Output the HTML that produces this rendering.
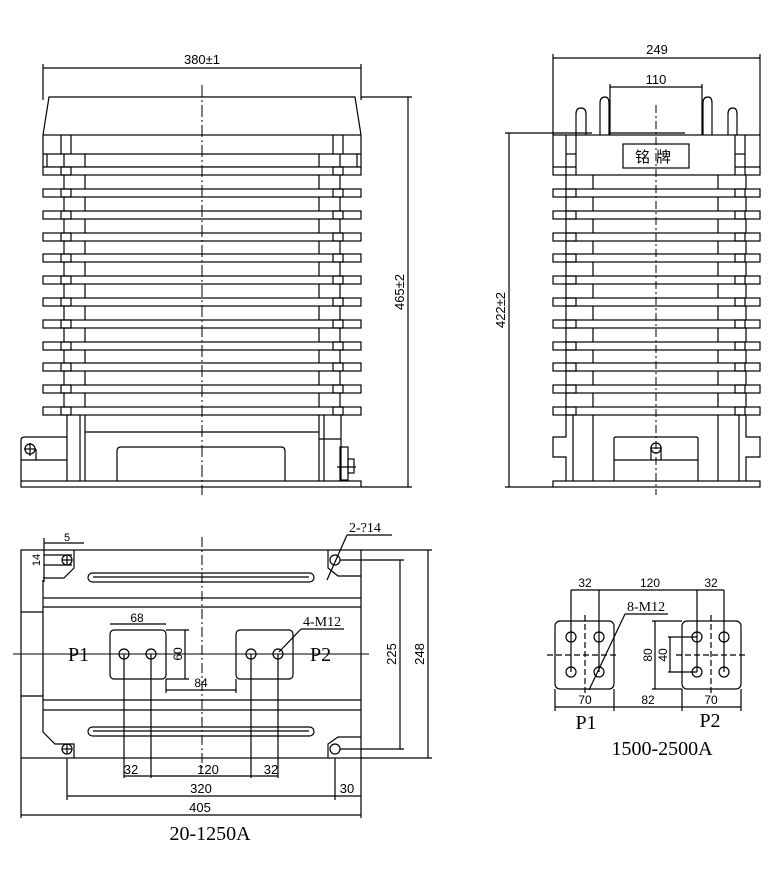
<!DOCTYPE html>
<html><head><meta charset="utf-8"><style>
html,body{margin:0;padding:0;background:#fff}
svg{display:block}
text{font-family:"Liberation Sans","Noto Sans CJK SC",sans-serif;fill:#000}
.s{font-family:"Liberation Serif","Noto Serif CJK SC",serif}
</style></head><body>
<svg width="782" height="882" viewBox="0 0 782 882" xmlns="http://www.w3.org/2000/svg" fill="none" stroke="#000" stroke-width="1.2">
<defs>
<g id="fL"><rect x="43" y="0" width="318" height="8" fill="#fff"/><rect x="61" y="0" width="10" height="8"/><rect x="333" y="0" width="10" height="8"/></g>
<g id="fR"><rect x="553" y="0" width="207" height="8" fill="#fff"/><rect x="566" y="0" width="10" height="8"/><rect x="735" y="0" width="10" height="8"/></g>
</defs>

<!-- ===== LEFT FRONT VIEW ===== -->
<line x1="43" y1="68" x2="361" y2="68"/>
<line x1="43" y1="64" x2="43" y2="100"/><line x1="361" y1="64" x2="361" y2="100"/>
<text x="202" y="64" font-size="13" text-anchor="middle" stroke="none">380±1</text>
<path d="M43 135 L49 97 L355 97 L361 135"/>
<line x1="361" y1="97" x2="412" y2="97"/><line x1="361" y1="487" x2="412" y2="487"/>
<line x1="408" y1="97" x2="408" y2="487"/>
<text transform="translate(404,292) rotate(-90)" font-size="13" text-anchor="middle" stroke="none">465±2</text>
<rect x="43" y="135" width="318" height="32"/>
<line x1="43" y1="154" x2="361" y2="154"/>
<line x1="61" y1="135" x2="61" y2="154"/><line x1="71" y1="135" x2="71" y2="154"/>
<line x1="333" y1="135" x2="333" y2="154"/><line x1="343" y1="135" x2="343" y2="154"/>
<line x1="47" y1="154" x2="47" y2="167"/><line x1="64" y1="154" x2="64" y2="167"/><line x1="85" y1="154" x2="85" y2="167"/>
<line x1="319" y1="154" x2="319" y2="167"/><line x1="340" y1="154" x2="340" y2="167"/><line x1="357" y1="154" x2="357" y2="167"/>
<line x1="64" y1="167" x2="64" y2="415"/><line x1="85" y1="167" x2="85" y2="415"/>
<line x1="319" y1="167" x2="319" y2="415"/><line x1="340" y1="167" x2="340" y2="415"/>
<use href="#fL" y="167"/><use href="#fL" y="189"/><use href="#fL" y="211"/><use href="#fL" y="233"/>
<use href="#fL" y="254"/><use href="#fL" y="276"/><use href="#fL" y="298"/><use href="#fL" y="320"/>
<use href="#fL" y="342"/><use href="#fL" y="363"/><use href="#fL" y="385"/><use href="#fL" y="407"/>
<rect x="21" y="481" width="340" height="6"/>
<line x1="67" y1="415" x2="67" y2="481"/><line x1="80" y1="415" x2="80" y2="481"/><line x1="85" y1="415" x2="85" y2="481"/>
<line x1="319" y1="415" x2="319" y2="481"/><line x1="324" y1="415" x2="324" y2="481"/><line x1="341" y1="415" x2="341" y2="481"/>
<line x1="85" y1="432" x2="319" y2="432"/><line x1="319" y1="439" x2="341" y2="439"/>
<path d="M117 481 V451 Q117 447 121 447 H281 Q285 447 285 451 V481"/>
<path d="M21 481 V440 Q21 437 25 437 H67"/><line x1="21" y1="460" x2="67" y2="460"/>
<circle cx="30" cy="449" r="5"/><line x1="24" y1="449" x2="36" y2="449"/><line x1="30" y1="443" x2="30" y2="456"/><line x1="36" y1="449" x2="36" y2="460"/>
<rect x="340" y="447" width="8" height="33"/><rect x="348" y="459" width="6" height="14"/><line x1="337" y1="467" x2="356" y2="467"/>
<line x1="202" y1="85" x2="202" y2="495" stroke-dasharray="12,3,2,3" stroke-width="1"/>

<!-- ===== RIGHT SIDE VIEW ===== -->
<line x1="553" y1="58" x2="760" y2="58"/>
<line x1="553" y1="54" x2="553" y2="135"/><line x1="760" y1="54" x2="760" y2="135"/>
<text x="657" y="54" font-size="13" text-anchor="middle" stroke="none">249</text>
<line x1="610" y1="87" x2="702" y2="87"/>
<text x="656" y="84" font-size="13" text-anchor="middle" stroke="none">110</text>
<line x1="610" y1="84" x2="610" y2="135"/><line x1="702" y1="84" x2="702" y2="135"/>
<line x1="610" y1="133" x2="685" y2="133"/>
<path d="M576 135 V114 Q576 108 581 108 Q586 108 586 114 V135"/>
<path d="M600 135 V103 Q600 97 605 97 Q609 97 609 103 V135"/>
<path d="M703 135 V103 Q703 97 708 97 Q712 97 712 103 V135"/>
<path d="M728 135 V114 Q728 108 733 108 Q737 108 737 114 V135"/>
<line x1="505" y1="133" x2="592" y2="133"/><line x1="505" y1="487" x2="553" y2="487"/>
<line x1="509" y1="133" x2="509" y2="487"/>
<text transform="translate(505,310) rotate(-90)" font-size="13" text-anchor="middle" stroke="none">422±2</text>
<rect x="553" y="135" width="207" height="40"/>
<line x1="566" y1="135" x2="566" y2="175"/><line x1="576" y1="135" x2="576" y2="175"/>
<line x1="735" y1="135" x2="735" y2="175"/><line x1="745" y1="135" x2="745" y2="175"/>
<line x1="553" y1="167" x2="576" y2="167"/><line x1="735" y1="167" x2="760" y2="167"/>
<line x1="566" y1="154" x2="576" y2="154"/><line x1="735" y1="154" x2="745" y2="154"/>
<rect x="623" y="144" width="66" height="24"/>
<text x="656" y="162" font-size="15" text-anchor="middle" stroke="none" letter-spacing="6">铭牌</text>
<line x1="566" y1="175" x2="566" y2="415"/><line x1="593" y1="175" x2="593" y2="415"/>
<line x1="718" y1="175" x2="718" y2="415"/><line x1="746" y1="175" x2="746" y2="415"/>
<use href="#fR" y="189"/><use href="#fR" y="211"/><use href="#fR" y="233"/>
<use href="#fR" y="254"/><use href="#fR" y="276"/><use href="#fR" y="298"/><use href="#fR" y="320"/>
<use href="#fR" y="342"/><use href="#fR" y="363"/><use href="#fR" y="385"/><use href="#fR" y="407"/>
<rect x="553" y="481" width="207" height="6"/>
<path d="M566 415 V437 H553 V457 H566 V481"/><line x1="573" y1="415" x2="573" y2="481"/><line x1="593" y1="415" x2="593" y2="481"/>
<path d="M746 415 V437 H760 V457 H746 V481"/><line x1="739" y1="415" x2="739" y2="481"/><line x1="718" y1="415" x2="718" y2="481"/>
<path d="M614 481 V439 Q614 437 616 437 H696 Q698 437 698 439 V481"/><line x1="614" y1="460" x2="698" y2="460"/>
<circle cx="656" cy="448" r="5"/><line x1="650" y1="448" x2="662" y2="448"/><line x1="651" y1="448" x2="651" y2="460"/><line x1="661" y1="448" x2="661" y2="460"/>
<line x1="656" y1="105" x2="656" y2="495" stroke-dasharray="8,3,2,3" stroke-width="1"/>

<!-- ===== PLAN VIEW ===== -->
<rect x="21" y="550" width="340" height="208"/>
<path d="M43 580 V732 L55 744 H74 V758"/><path d="M74 550 V568 L64 578 H43"/>
<path d="M328 550 V568 L338 576 H361"/><path d="M328 758 V744 L338 737 H361"/>
<line x1="21" y1="612" x2="43" y2="612"/><line x1="21" y1="696" x2="43" y2="696"/>
<line x1="43" y1="598" x2="361" y2="598"/><line x1="43" y1="607" x2="361" y2="607"/>
<line x1="43" y1="700" x2="361" y2="700"/><line x1="43" y1="710" x2="361" y2="710"/>
<rect x="88" y="573" width="226" height="9" rx="4.5"/><line x1="93" y1="577" x2="309" y2="577"/>
<rect x="88" y="727" width="226" height="9" rx="4.5"/><line x1="93" y1="731" x2="309" y2="731"/>
<circle cx="67" cy="560" r="5"/><circle cx="335" cy="560" r="5"/><circle cx="67" cy="749" r="5"/><circle cx="335" cy="749" r="5"/>
<line x1="62" y1="560" x2="72" y2="560"/><line x1="67" y1="555" x2="67" y2="565"/>
<line x1="62" y1="749" x2="72" y2="749"/><line x1="67" y1="744" x2="67" y2="754"/>
<line x1="13" y1="654" x2="369" y2="654" stroke-width="1"/>
<line x1="202" y1="537" x2="202" y2="770" stroke-dasharray="10,3,2,3" stroke-width="1"/>
<rect x="110" y="630" width="56" height="49" rx="4"/><rect x="236" y="630" width="57" height="49" rx="4"/>
<circle cx="124" cy="654" r="5"/><circle cx="151" cy="654" r="5"/><circle cx="251" cy="654" r="5"/><circle cx="278" cy="654" r="5"/>
<text class="s" x="68" y="661" font-size="20" stroke="none">P1</text>
<text class="s" x="310" y="661" font-size="20" stroke="none">P2</text>
<line x1="110" y1="624" x2="166" y2="624"/><text x="137" y="622" font-size="12" text-anchor="middle" stroke="none">68</text>
<line x1="166" y1="630" x2="189" y2="630"/><line x1="166" y1="679" x2="189" y2="679"/><line x1="185" y1="630" x2="185" y2="679"/>
<text transform="translate(182,654) rotate(-90)" font-size="12" text-anchor="middle" stroke="none">60</text>
<line x1="166" y1="679" x2="166" y2="693"/><line x1="236" y1="679" x2="236" y2="693"/><line x1="166" y1="690" x2="236" y2="690"/>
<text x="201" y="687" font-size="12" text-anchor="middle" stroke="none">84</text>
<text class="s" x="303" y="626" font-size="14" stroke="none">4-M12</text><line x1="301" y1="629" x2="344" y2="629"/><line x1="301" y1="629" x2="279" y2="652"/>
<text class="s" x="349" y="532" font-size="14" stroke="none">2-?14</text><line x1="347" y1="535" x2="392" y2="535"/><line x1="347" y1="535" x2="327" y2="580"/>
<line x1="340" y1="560" x2="404" y2="560"/><line x1="340" y1="749" x2="404" y2="749"/><line x1="400" y1="560" x2="400" y2="749"/>
<text transform="translate(396,654) rotate(-90)" font-size="13" text-anchor="middle" stroke="none">225</text>
<line x1="361" y1="550" x2="432" y2="550"/><line x1="361" y1="758" x2="432" y2="758"/><line x1="428" y1="550" x2="428" y2="758"/>
<text transform="translate(424,654) rotate(-90)" font-size="13" text-anchor="middle" stroke="none">248</text>
<line x1="124" y1="654" x2="124" y2="778"/><line x1="151" y1="654" x2="151" y2="778"/><line x1="251" y1="654" x2="251" y2="778"/><line x1="278" y1="654" x2="278" y2="778"/>
<line x1="124" y1="776" x2="278" y2="776"/>
<text x="131" y="774" font-size="13" text-anchor="middle" stroke="none">32</text>
<text x="208" y="774" font-size="13" text-anchor="middle" stroke="none">120</text>
<text x="271" y="774" font-size="13" text-anchor="middle" stroke="none">32</text>
<line x1="67" y1="758" x2="67" y2="800"/><line x1="335" y1="758" x2="335" y2="800"/>
<line x1="67" y1="796" x2="361" y2="796"/>
<text x="201" y="793" font-size="13" text-anchor="middle" stroke="none">320</text>
<text x="347" y="793" font-size="13" text-anchor="middle" stroke="none">30</text>
<line x1="21" y1="758" x2="21" y2="818"/><line x1="361" y1="758" x2="361" y2="818"/>
<line x1="21" y1="815" x2="361" y2="815"/>
<text x="200" y="812" font-size="13" text-anchor="middle" stroke="none">405</text>
<line x1="44" y1="543" x2="84" y2="543"/><line x1="44" y1="538" x2="44" y2="582"/>
<line x1="44" y1="555" x2="72" y2="555"/><line x1="44" y1="565" x2="72" y2="565"/>
<text x="67" y="541" font-size="11" text-anchor="middle" stroke="none">5</text>
<text transform="translate(40,560) rotate(-90)" font-size="11" text-anchor="middle" stroke="none">14</text>
<text class="s" x="210" y="840" font-size="20" text-anchor="middle" stroke="none">20-1250A</text>

<!-- ===== 1500-2500A ===== -->
<rect x="555" y="621" width="59" height="68" rx="5"/><rect x="682" y="621" width="59" height="68" rx="5"/>
<line x1="547" y1="655" x2="618" y2="655" stroke-dasharray="6,3"/><line x1="676" y1="655" x2="747" y2="655" stroke-dasharray="6,3"/>
<line x1="585" y1="615" x2="585" y2="695" stroke-dasharray="6,3"/><line x1="711" y1="615" x2="711" y2="695" stroke-dasharray="6,3"/>
<circle cx="571" cy="637" r="5"/><circle cx="599" cy="637" r="5"/><circle cx="571" cy="672" r="5"/><circle cx="599" cy="672" r="5"/>
<circle cx="697" cy="637" r="5"/><circle cx="724" cy="637" r="5"/><circle cx="697" cy="672" r="5"/><circle cx="724" cy="672" r="5"/>
<line x1="571" y1="590" x2="571" y2="672"/><line x1="599" y1="590" x2="599" y2="672"/>
<line x1="697" y1="590" x2="697" y2="672"/><line x1="724" y1="590" x2="724" y2="672"/>
<line x1="571" y1="590" x2="724" y2="590"/>
<text x="585" y="587" font-size="12" text-anchor="middle" stroke="none">32</text>
<text x="650" y="587" font-size="12" text-anchor="middle" stroke="none">120</text>
<text x="711" y="587" font-size="12" text-anchor="middle" stroke="none">32</text>
<text class="s" x="627" y="611" font-size="14" stroke="none">8-M12</text><line x1="625" y1="614" x2="668" y2="614"/><line x1="625" y1="614" x2="589" y2="690"/>
<line x1="652" y1="621" x2="682" y2="621"/><line x1="652" y1="689" x2="682" y2="689"/><line x1="655" y1="621" x2="655" y2="689"/>
<line x1="668" y1="637" x2="697" y2="637"/><line x1="668" y1="672" x2="697" y2="672"/><line x1="670" y1="637" x2="670" y2="672"/>
<text transform="translate(652,655) rotate(-90)" font-size="12" text-anchor="middle" stroke="none">80</text>
<text transform="translate(667,655) rotate(-90)" font-size="12" text-anchor="middle" stroke="none">40</text>
<line x1="555" y1="689" x2="555" y2="711"/><line x1="614" y1="689" x2="614" y2="711"/><line x1="682" y1="689" x2="682" y2="711"/><line x1="741" y1="689" x2="741" y2="711"/>
<line x1="555" y1="707" x2="741" y2="707"/>
<text x="585" y="704" font-size="12" text-anchor="middle" stroke="none">70</text>
<text x="648" y="704" font-size="12" text-anchor="middle" stroke="none">82</text>
<text x="711" y="704" font-size="12" text-anchor="middle" stroke="none">70</text>
<text class="s" x="586" y="729" font-size="20" text-anchor="middle" stroke="none">P1</text>
<text class="s" x="710" y="727" font-size="20" text-anchor="middle" stroke="none">P2</text>
<text class="s" x="662" y="755" font-size="20" text-anchor="middle" stroke="none">1500-2500A</text>
</svg>
</body></html>
